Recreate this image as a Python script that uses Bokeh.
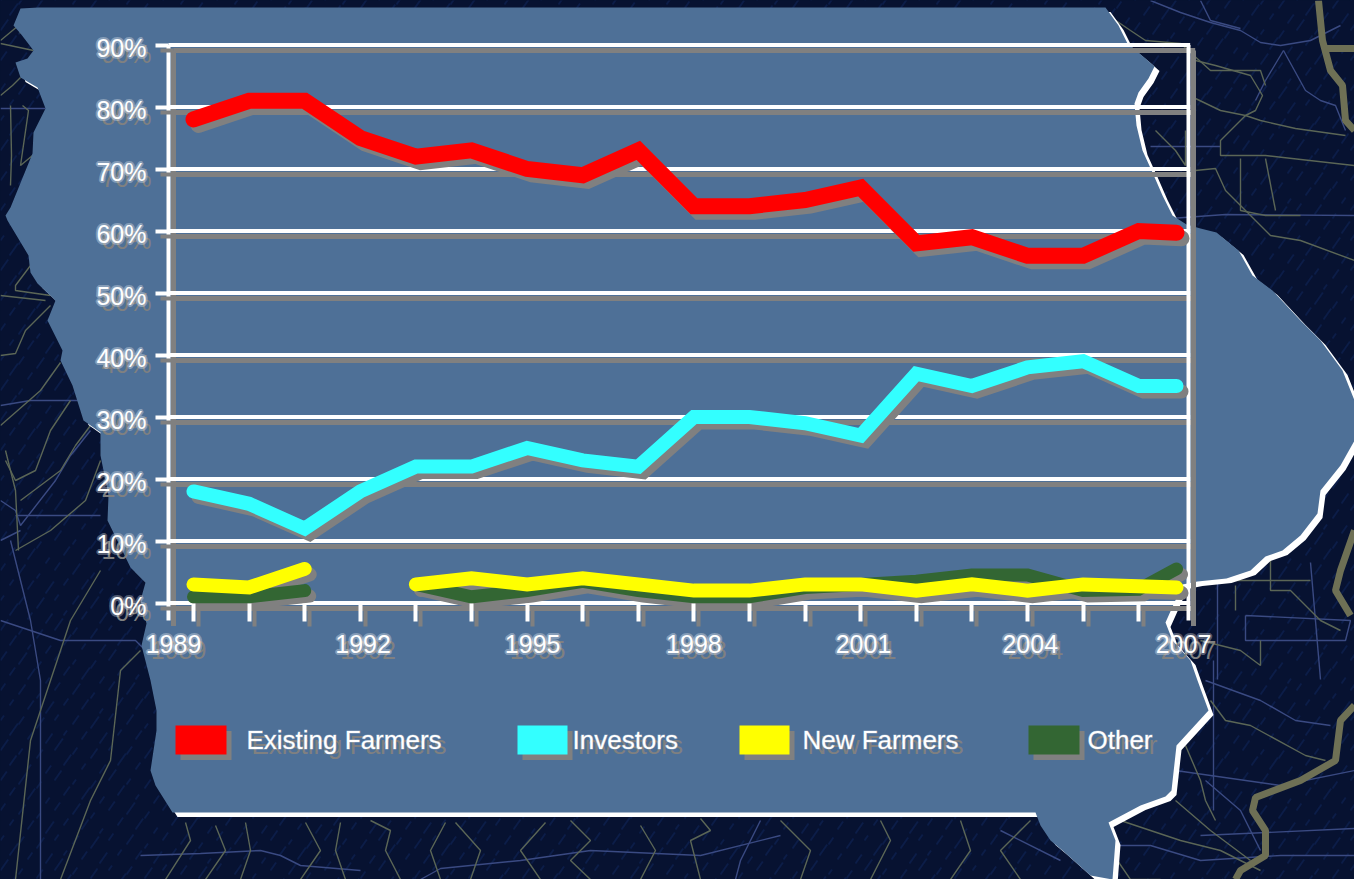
from bokeh.plotting import figure
from bokeh.models import Range1d, LinearAxis, FixedTicker
from bokeh.core.properties import value
from bokeh.embed import file_html
from bokeh.resources import INLINE

nan = float("nan")

# ---- chart data ----
years = list(range(1989, 2008))
existing = [78, 81, 81, 75, 72, 73, 70, 69, 73, 64, 64, 65, 67, 58, 59, 56, 56, 60, 59.7]
investors = [18, 16, 12, 18, 22, 22, 25, 23, 22, 30, 30, 29, 27, 37, 35, 38, 39, 35, 35]
new_farmers = [3, 2.5, 5.5, nan, 3, 4, 3, 4, 3, 2, 2, 3, 3, 2, 3, 2, 3, 2.7, 2.5]
other = [1, 1, 2, nan, 3, 1, 2, 3.5, 2, 1, 1, 2.5, 3, 3.5, 4.5, 4.5, 2, 2.2, 5.5]
y_ticks = [0, 10, 20, 30, 40, 50, 60, 70, 80, 90]
year_labels = ["1989", "1992", "1995", "1998", "2001", "2004", "2007"]
series_names = ["Existing Farmers", "Investors", "New Farmers", "Other"]

# ---- styling / layout ----
W, H = 1354, 879
RED, CYAN, YELLOW, GREEN = "#ff0000", "#33ffff", "#ffff00", "#336633"
GRAY, WHITE, NAVY, STATE = "#808080", "#ffffff", "#071231", "#4e7097"
FONT = "Liberation Sans"
PX_YEAR, X0 = 55.6, 193.0      # px per year, px of 1989
PX_PCT, Y0 = 6.2, 602.5        # px per percent, px of 0 %
SHX, SHY = 5.0, 5.5            # drop shadow
# the last point and labels of the source sit a little off the regular year grid
line_years = years[:-1] + [2006.68]
x_left = 1989 + (168 - X0) / PX_YEAR
x_right = 1989 + (1188 - X0) / PX_YEAR
y_foot = -(620 - Y0) / PX_PCT
label_pos = [1989 + (173 - X0) / PX_YEAR, 1992.05, 1995.1, 1998.0, 2001.05, 2004.05,
             1989 + (1183 - X0) / PX_YEAR]


def xr(dx=0.0):
    s = 1989 - X0 / PX_YEAR - dx / PX_YEAR
    return Range1d(s, s + W / PX_YEAR)


def yr(dy=0.0):
    # y px grows downward
    bottom = (Y0 - H) / PX_PCT + dy / PX_PCT
    top = Y0 / PX_PCT + dy / PX_PCT
    return Range1d(bottom, top)


p = figure(width=W, height=H, x_range=xr(), y_range=yr(), x_axis_type=None, y_axis_type=None,
           output_backend="svg", toolbar_location=None, min_border=0,
           background_fill_color=NAVY, border_fill_color=NAVY, outline_line_color=None)
p.grid.visible = False
p.extra_x_ranges = {"px": Range1d(0, W), "sx": xr(SHX)}
p.extra_y_ranges = {"py": Range1d(H, 0), "sy": yr(SHY), "ly": yr(3.0), "sly": yr(3.0 + SHY)}
PX = dict(x_range_name="px", y_range_name="py")

# ---- background map (decoration) ----
hx, hy = [], []
for row, y in enumerate(range(0, H + 16, 15)):
    for col, x in enumerate(range(0, W + 20, 18)):
        ln = 5 + (row * 7 + col * 3) % 8
        x0 = x + (row % 2) * 9
        hx.append([x0, x0 + ln * 0.7])
        hy.append([y + (col % 3) * 4, y + (col % 3) * 4 - ln])
p.multi_line(xs=hx, ys=hy, line_color="#0c1d48", line_width=2, **PX)

roads = [
    [[1150, 1180, 1210, 1240, 1260, 1280, 1310, 1340], [0, 12, 22, 30, 42, 45, 40, 25]],
    [[1200, 1210, 1240], [0, 20, 28]],
    [[1283, 1265, 1255], [50, 80, 100]],
    [[1283, 1305, 1320, 1335, 1345], [50, 90, 100, 105, 130]],
    [[1170, 1225, 1354], [218, 214, 215]],
    [[1150, 1190, 1220], [146, 146, 146]],
    [[1205, 1260, 1295, 1330], [680, 700, 720, 725]],
    [[1213, 1213], [660, 810]],
    [[1175, 1280, 1354], [770, 785, 770]],
    [[1205, 1240, 1260], [780, 810, 850]],
    [[1245, 1350, 1345, 1245, 1245], [615, 620, 640, 640, 615]],
    [[1310, 1320], [562, 679]],
    [[1217, 1217], [580, 679]],
    [[1110, 1150, 1200, 1280, 1354], [845, 845, 860, 855, 855]],
    [[1200, 1354], [835, 828]],
    [[0, 15, 20, 55, 70, 90], [500, 510, 525, 480, 455, 430]],
    [[15, 100], [515, 515]],
    [[0, 30, 60, 100], [405, 400, 400, 400]],
    [[0, 20], [540, 530]],
    [[10, 30, 40, 40], [540, 620, 680, 879]],
    [[0, 60, 135, 150], [620, 640, 640, 655]],
    [[140, 200, 260, 280, 300, 360], [855, 853, 850, 855, 865, 870]],
    [[420, 440, 520, 590, 700, 780], [879, 868, 860, 850, 855, 835]],
    [[760, 740, 735], [820, 860, 879]],
    [[1000, 1060], [830, 860]],
    [[0, 45], [108, 108]],
]
rivers = [
    [[1108, 1130, 1145, 1180, 1210, 1260, 1265], [15, 30, 40, 43, 70, 70, 85]],
    [[1195, 1215, 1250, 1262, 1255, 1245], [60, 65, 75, 95, 110, 115]],
    [[1195, 1220, 1245, 1260, 1295, 1345], [98, 110, 115, 120, 128, 135]],
    [[1245, 1220, 1220, 1265, 1354], [115, 140, 155, 155, 165]],
    [[1240, 1240, 1265, 1300], [158, 210, 215, 215]],
    [[1265, 1275], [158, 210]],
    [[1195, 1215, 1225, 1245, 1270, 1300, 1354], [170, 168, 190, 210, 235, 240, 260]],
    [[1155, 1175, 1185, 1185], [130, 150, 165, 130]],
    [[1210, 1225, 1250, 1305, 1325], [700, 720, 725, 755, 760]],
    [[1185, 1200, 1205, 1215], [745, 780, 800, 820]],
    [[1175, 1210, 1250], [800, 830, 860]],
    [[1120, 1180, 1220, 1260], [820, 840, 850, 870]],
    [[1110, 1130, 1160], [850, 879, 879]],
    [[1270, 1270, 1290, 1320, 1340], [560, 590, 590, 620, 630]],
    [[1200, 1310], [580, 580]],
    [[1235, 1235], [585, 610]],
    [[1200, 1240, 1260, 1260], [640, 650, 665, 640]],
    [[0, 18, 20], [40, 25, 33]],
    [[0, 33], [43, 50]],
    [[0, 12, 20], [95, 85, 77]],
    [[10, 11, 10], [105, 155, 185]],
    [[22, 28, 20, 32], [105, 110, 165, 155]],
    [[30, 30, 15, 15, 50], [240, 265, 285, 290, 295]],
    [[0, 45], [295, 300]],
    [[0, 15, 25, 50], [355, 353, 330, 305]],
    [[60, 40, 0], [362, 390, 425]],
    [[70, 50, 35, 15, 5], [400, 430, 470, 480, 460]],
    [[90, 75, 60, 20], [425, 445, 470, 500]],
    [[100, 85, 50, 15], [460, 500, 530, 550]],
    [[5, 15, 18], [450, 490, 550]],
    [[15, 30, 70, 100], [879, 740, 620, 570]],
    [[60, 90, 110, 120, 140], [879, 800, 760, 670, 650]],
    [[165, 190, 185], [879, 840, 822]],
    [[205, 225, 215], [879, 850, 825]],
    [[240, 250, 245], [879, 850, 822]],
    [[300, 320, 305], [879, 850, 822]],
    [[345, 335, 340], [879, 850, 822]],
    [[400, 385, 390, 370], [879, 850, 830, 820]],
    [[440, 430, 445], [879, 850, 822]],
    [[470, 480, 455], [879, 850, 822]],
    [[540, 520, 545], [879, 850, 822]],
    [[590, 570, 590, 570], [879, 860, 840, 820]],
    [[640, 655, 640], [879, 850, 825]],
    [[700, 690, 710, 700], [879, 840, 830, 818]],
    [[800, 810, 780], [879, 850, 820]],
    [[870, 890, 880], [879, 840, 820]],
    [[950, 970, 960], [879, 850, 820]],
    [[1020, 1000, 1030], [879, 850, 820]],
]
p.multi_line(xs=[r[0] for r in roads], ys=[r[1] for r in roads], line_color="#3a4a82", line_width=1.4, **PX)
p.multi_line(xs=[r[0] for r in rivers], ys=[r[1] for r in rivers], line_color="#5b6656", line_width=1.4, **PX)
big_river = [
    [[1318, 1322, 1330, 1342, 1345, 1354], [0, 40, 70, 85, 120, 130]],
    [[1325, 1354], [48, 48]],
    [[1354, 1340, 1335, 1300, 1255, 1252, 1265, 1265, 1240, 1235], [705, 720, 760, 780, 797, 810, 830, 855, 870, 879]],
    [[1354, 1340, 1335, 1350], [530, 570, 590, 615]],
]
p.multi_line(xs=[r[0] for r in big_river], ys=[r[1] for r in big_river], line_color="#6e7055", line_width=7, **PX)

# ---- Iowa silhouette ----
iowa_x = [13, 20, 38, 1105, 1118, 1127, 1145, 1154, 1148, 1138, 1134, 1136, 1142, 1152, 1162,
          1172, 1186, 1200, 1216, 1238, 1252, 1272, 1300, 1320, 1342, 1354, 1354, 1340, 1320,
          1317, 1300, 1282, 1265, 1250, 1226, 1197, 1182, 1165, 1172, 1190, 1197, 1208, 1176,
          1171, 1165, 1140, 1108, 1115, 1112, 1090, 1062, 1050, 1040, 1035, 172, 155, 150, 156,
          156, 150, 141, 146, 140, 145, 130, 107, 108, 100, 100, 83, 72, 60, 62, 47, 55, 37, 30,
          28, 7, 5, 10, 32, 33, 45, 37, 20, 15, 27, 33, 20]
iowa_y = [25, 8, 7, 7, 25, 43, 58, 66, 78, 92, 103, 125, 150, 172, 195,
          215, 224, 228, 232, 250, 275, 290, 320, 340, 370, 400, 440, 465, 490,
          513, 535, 550, 556, 570, 578, 581, 584, 622, 640, 660, 680, 710, 745,
          790, 796, 805, 822, 840, 879, 875, 850, 840, 825, 812, 812, 785, 770, 730,
          710, 680, 645, 623, 600, 582, 567, 520, 495, 455, 432, 420, 385, 360, 350, 320, 300, 283, 272,
          255, 220, 215, 207, 153, 132, 108, 87, 77, 62, 58, 50, 33]
p.patch([v + 5 for v in iowa_x], [v + 4.5 for v in iowa_y], fill_color=WHITE, fill_alpha=1.0, line_color=None, **PX)
p.patch(iowa_x, iowa_y, fill_color=STATE, fill_alpha=1.0, line_color=None, **PX)


# ---- frame, grid ----
def frame(color, width, **ranges):
    kw = dict(line_color=color, line_width=width, **ranges)
    p.segment([x_left] * len(y_ticks), y_ticks, [x_right + 0.03] * len(y_ticks), y_ticks, **kw)
    p.segment([x_left, x_right], [y_ticks[-1]] * 2, [x_left, x_right], [y_foot] * 2, **kw)


def axes(color, xname, yname, lyname, outline):
    tick = dict(axis_line_color=None, major_tick_line_color=color, major_tick_line_width=4,
                major_tick_in=0, minor_tick_line_color=None, major_label_text_color=color,
                major_label_text_font=FONT)
    lab = dict(major_label_text_font_size="25px", major_label_text_outline_color=outline)
    xt = LinearAxis(ticker=FixedTicker(ticks=years[:-1]), fixed_location=0, major_tick_out=18,
                    major_label_text_font_size="0px", x_range_name=xname, y_range_name=yname, **tick)
    xt.major_label_overrides = {y: "" for y in years}
    p.add_layout(xt, "below")
    xl = LinearAxis(ticker=FixedTicker(ticks=label_pos), fixed_location=0, major_tick_out=0,
                    major_label_standoff=32, x_range_name=xname, y_range_name=yname,
                    major_label_overrides=dict(zip(label_pos, year_labels)), **tick, **lab)
    p.add_layout(xl, "below")
    yt = LinearAxis(ticker=FixedTicker(ticks=y_ticks), fixed_location=x_left, major_tick_out=13,
                    major_label_text_font_size="0px", x_range_name=xname, y_range_name=yname,
                    major_label_overrides={v: "" for v in y_ticks}, **tick)
    p.add_layout(yt, "left")
    yl = LinearAxis(ticker=FixedTicker(ticks=y_ticks), fixed_location=x_left, major_tick_out=0,
                    major_label_standoff=22, x_range_name=xname, y_range_name=lyname,
                    major_label_overrides={v: f"{v}%" for v in y_ticks}, **tick, **lab)
    p.add_layout(yl, "left")


SOFT = "#ffffff50"
frame(GRAY, 5, x_range_name="sx", y_range_name="sy")
frame(WHITE, 4)
axes(GRAY, "sx", "sy", "sly", None)
axes(WHITE, "default", "default", "ly", SOFT)

# ---- series ----
series = [(other, GREEN, 13), (new_farmers, YELLOW, 14), (investors, CYAN, 14), (existing, RED, 16)]
for vals, col, w in series:
    p.line(line_years, vals, line_color=GRAY, line_width=w, line_cap="round", line_join="miter",
           x_range_name="sx", y_range_name="sy")
for vals, col, w in series:
    p.line(line_years, vals, line_color=col, line_width=w, line_cap="round", line_join="miter")

# ---- legend ----
swatch_left = [175, 517, 739, 1028]
swatch_right = [226, 567, 789, 1079]
text_left = [246, 572, 802, 1087]
swatch_col = [RED, CYAN, YELLOW, GREEN]
sw_top, sw_bottom, text_mid = 725, 754, 739
for dx, dy, is_shadow in [(SHX, SHY, True), (0, 0, False)]:
    p.quad(left=[v + dx for v in swatch_left], right=[v + dx for v in swatch_right],
           top=[sw_top + dy] * 4, bottom=[sw_bottom + dy] * 4,
           fill_color=GRAY if is_shadow else swatch_col, fill_alpha=1.0, line_color=None, **PX)
    p.text(x=[v + dx for v in text_left], y=[text_mid + dy] * 4, text=series_names,
           text_color=GRAY if is_shadow else WHITE, text_outline_color=None if is_shadow else SOFT,
           text_font=value(FONT), text_font_size="26px",
           text_baseline="middle", text_align="left", **PX)

html = file_html(p, INLINE)
html = html.replace("<body>", f'<body style="margin:0;overflow:hidden;background:{NAVY}">')
open("out.html", "w").write(html)
